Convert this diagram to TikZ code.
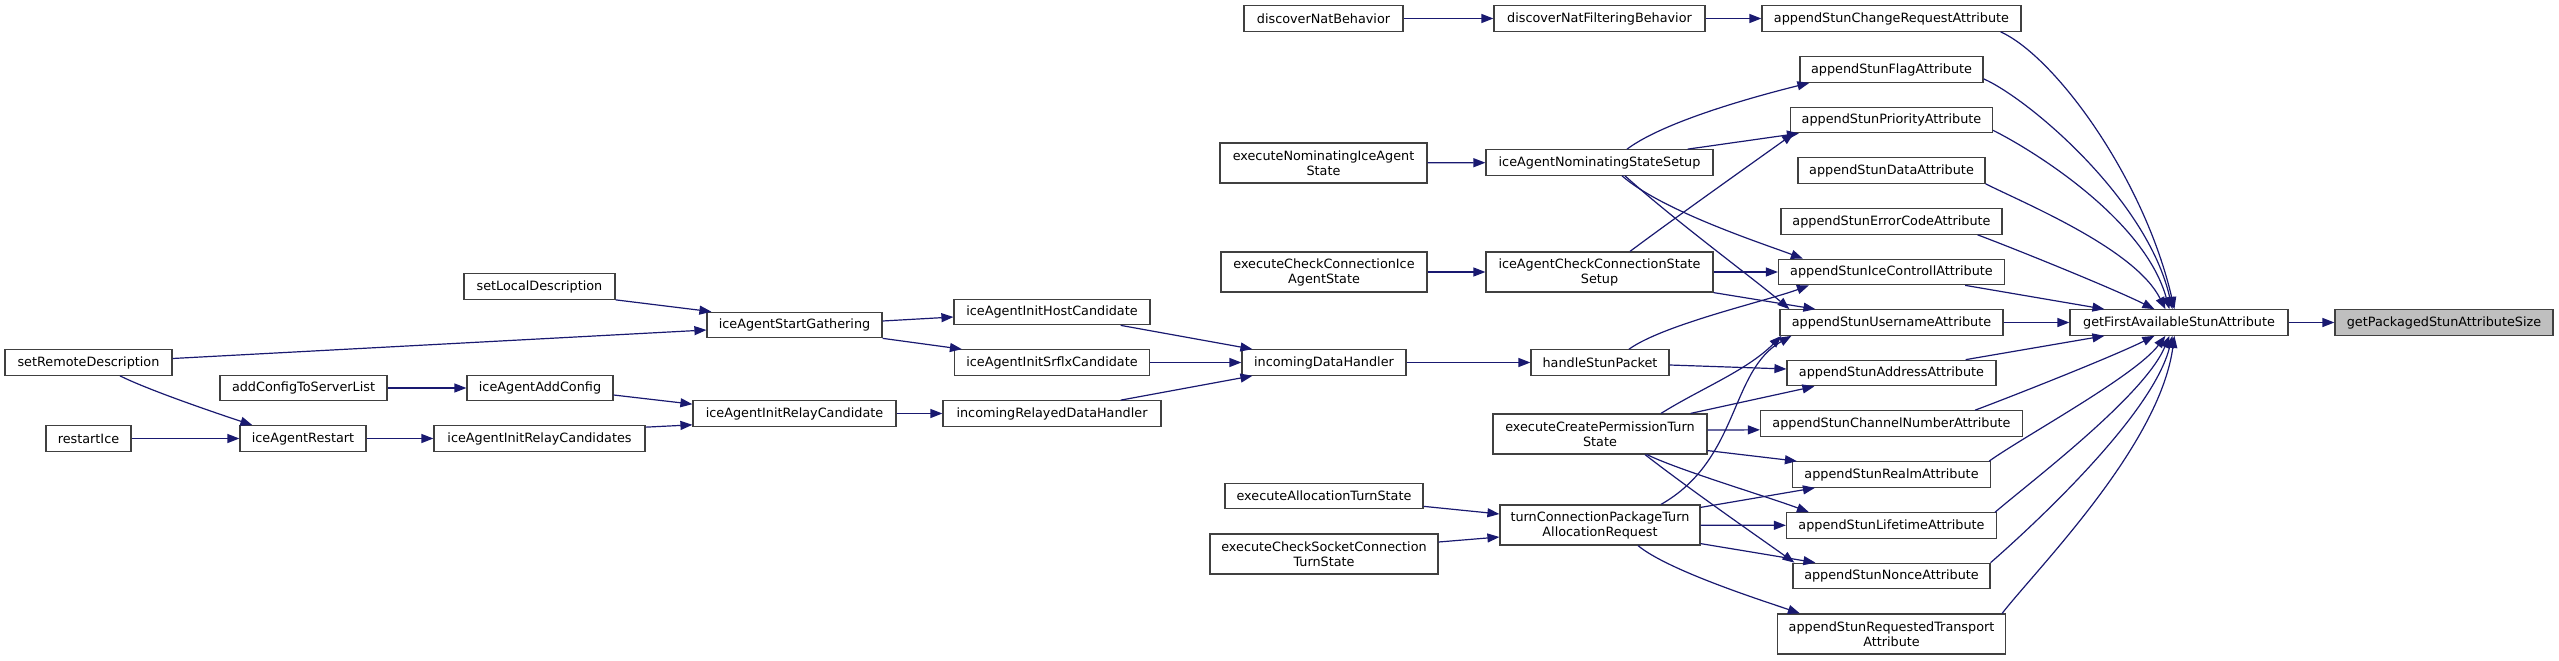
\documentclass[tikz,border=0pt]{standalone}
\usepackage{fontspec}
\setmainfont{DejaVu Sans}
\usetikzlibrary{arrows.meta,calc}
\definecolor{edgec}{HTML}{191970}
\definecolor{boxc}{HTML}{404040}
\definecolor{rootf}{HTML}{BFBFBF}
\begin{document}
\begin{tikzpicture}[x=1pt,y=-1pt,
  box/.style={draw=boxc, fill=white, line width=1.2pt, inner sep=0pt, minimum height=25.5pt, align=center, font=\fontsize{12.8pt}{15pt}\selectfont},
  tall/.style={minimum height=40pt},
  root/.style={fill=rootf},
  edge/.style={draw=edgec, line width=1.2pt, -{Triangle[length=12pt,width=9pt]}}]
\useasboundingbox (0,0) rectangle (2559,661);
% rank 9
\node[box,minimum width=167pt] (srd) at (88.5,362.5) {setRemoteDescription};
\node[box,minimum width=85pt] (rice) at (88.5,438.5) {restartIce};
% rank 8
\node[box,minimum width=167pt] (acsl) at (303.5,388) {addConfigToServerList};
\node[box,minimum width=126pt] (iar) at (303,438.5) {iceAgentRestart};
% rank 7
\node[box,minimum width=151pt] (sld) at (539.5,286.5) {setLocalDescription};
\node[box,minimum width=146pt] (iaac) at (540,388) {iceAgentAddConfig};
\node[box,minimum width=211pt] (iarcs) at (539.5,438.5) {iceAgentInitRelayCandidates};
% rank 6
\node[box,minimum width=175pt] (iasg) at (794.5,325) {iceAgentStartGathering};
\node[box,minimum width=203pt] (iairc) at (794.5,413.5) {iceAgentInitRelayCandidate};
% rank 5
\node[box,minimum width=196pt] (iahc) at (1052,312) {iceAgentInitHostCandidate};
\node[box,minimum width=195pt] (iasc) at (1052,362.5) {iceAgentInitSrflxCandidate};
\node[box,minimum width=218pt] (irdh) at (1052,413.5) {incomingRelayedDataHandler};
% rank 4
\node[box,minimum width=159pt] (dnb) at (1323.5,18.5) {discoverNatBehavior};
\node[box,tall,minimum width=207pt] (enias) at (1323.5,163) {executeNominatingIceAgent\\State};
\node[box,tall,minimum width=206pt] (ecci) at (1324,272) {executeCheckConnectionIce\\AgentState};
\node[box,minimum width=164pt] (idh) at (1324,362.5) {incomingDataHandler};
\node[box,minimum width=198pt] (eats) at (1324,496) {executeAllocationTurnState};
\node[box,tall,minimum width=228pt] (ecsc) at (1324,554) {executeCheckSocketConnection\\TurnState};
% rank 3
\node[box,minimum width=211pt] (dnfb) at (1599.5,18.5) {discoverNatFilteringBehavior};
\node[box,minimum width=227pt] (ianss) at (1599.5,162.5) {iceAgentNominatingStateSetup};
\node[box,tall,minimum width=227pt] (iaccs) at (1599.5,272) {iceAgentCheckConnectionState\\Setup};
\node[box,minimum width=138pt] (hsp) at (1600,362.5) {handleStunPacket};
\node[box,tall,minimum width=214pt] (ecpt) at (1600,434) {executeCreatePermissionTurn\\State};
\node[box,tall,minimum width=200pt] (tcp) at (1600,525) {turnConnectionPackageTurn\\AllocationRequest};
% rank 2
\node[box,minimum width=259pt] (cr) at (1891.5,18.5) {appendStunChangeRequestAttribute};
\node[box,minimum width=183pt] (fl) at (1891.5,69.5) {appendStunFlagAttribute};
\node[box,minimum width=202pt] (pr) at (1891.5,120) {appendStunPriorityAttribute};
\node[box,minimum width=187pt] (da) at (1891.5,170.5) {appendStunDataAttribute};
\node[box,minimum width=221pt] (ec) at (1891.5,221.5) {appendStunErrorCodeAttribute};
\node[box,minimum width=226pt] (ic) at (1891.5,272) {appendStunIceControllAttribute};
\node[box,minimum width=223pt] (un) at (1891.5,322.5) {appendStunUsernameAttribute};
\node[box,minimum width=209pt] (ad) at (1891.5,373) {appendStunAddressAttribute};
\node[box,minimum width=262pt] (cn) at (1891.5,423.5) {appendStunChannelNumberAttribute};
\node[box,minimum width=198pt] (re) at (1891.5,474.5) {appendStunRealmAttribute};
\node[box,minimum width=210pt] (lt) at (1891.5,525.5) {appendStunLifetimeAttribute};
\node[box,minimum width=197pt] (no) at (1891.5,576) {appendStunNonceAttribute};
\node[box,tall,minimum width=228pt] (rt) at (1891.5,634) {appendStunRequestedTransport\\Attribute};
% rank 1, 0
\node[box,minimum width=218pt] (gf) at (2179,322.5) {getFirstAvailableStunAttribute};
\node[box,root,minimum width=218pt] (gp) at (2444,322.5) {getPackagedStunAttributeSize};

% straight edges
\draw[edge] (dnb) -- (dnfb);
\draw[edge] (dnfb) -- (cr);
\draw[edge] (enias) -- (ianss);
\draw[edge] (ecci) -- (iaccs);
\draw[edge] (idh) -- (hsp);
\draw[edge] (iasc) -- (idh);
\draw[edge] (iairc) -- (irdh);
\draw[edge] (acsl) -- (iaac);
\draw[edge] (rice) -- (iar);
\draw[edge] (iar) -- (iarcs);
\draw[edge] (un) -- (gf);
\draw[edge] (gf) -- (gp);
\draw[edge] (iaccs) -- (ic);
\draw[edge] (tcp) -- (lt);

% left part
\draw[edge] (sld.south east) -- ($(iasg.north west)+(5,0)$);
\draw[edge] ($(srd.east)+(0,-4)$) -- ($(iasg.west)+(0,5)$);
\draw[edge] ($(srd.south)+(31.5,0)$) .. controls +(30,15) and +(-30,-10) .. ($(iar.north west)+(13,0)$);
\draw[edge] ($(iaac.east)+(0,7)$) -- ($(iairc.north west)+(0,4)$);
\draw[edge] ($(iarcs.north east)+(0,2)$) -- ($(iairc.south west)+(0,-2)$);
\draw[edge] ($(iasg.east)+(0,-4)$) -- ($(iahc.west)+(0,5)$);
\draw[edge] (iasg.south east) -- ($(iasc.north west)+(8,0)$);
\draw[edge] ($(iahc.south east)+(-30,0)$) -- ($(idh.north west)+(11,0)$);
\draw[edge] ($(irdh.north east)+(-41,0)$) -- ($(idh.south west)+(11,0)$);
\draw[edge] ($(eats.south east)+(0,-3)$) -- ($(tcp.west)+(0,-11)$);
\draw[edge] ($(ecsc.east)+(0,-12)$) -- ($(tcp.west)+(0,12)$);

% rank 3 -> rank 2
\draw[edge] ($(ianss.north)+(27.5,0)$) .. controls +(40,-30) and +(-40,10) .. ($(fl.south west)+(10,0)$);
\draw[edge] ($(ianss.north east)+(-26,0)$) -- ($(pr.south west)+(9,0)$);
\draw[edge] ($(ianss.south)+(22.5,0)$) .. controls +(40,35) and +(-40,-15) .. ($(ic.north west)+(25,0)$);
\draw[edge] ($(ianss.south)+(25.5,0)$) .. controls +(50,45) and +(-35,-30) .. ($(un.north west)+(10,0)$);
\draw[edge] ($(iaccs.north)+(30.5,0)$) .. controls +(40,-30) and +(-35,25) .. ($(pr.south west)+(4,0)$);
\draw[edge] (iaccs.south east) -- ($(un.north west)+(36,0)$);
\draw[edge] ($(hsp.north)+(29,0)$) .. controls +(35,-25) and +(-40,15) .. ($(ic.south west)+(31,0)$);
\draw[edge] ($(hsp.east)+(0,2.5)$) -- ($(ad.west)+(0,-4)$);
\draw[edge] ($(ecpt.north)+(61,0)$) .. controls +(40,-25) and +(-35,35) .. ($(un.south west)+(2,0)$);
\draw[edge] ($(ecpt.north east)+(-17,0)$) -- ($(ad.south west)+(28,0)$);
\draw[edge] ($(ecpt.east)+(0,-4)$) -- ($(cn.south west)+(0,-7)$);
\draw[edge] ($(ecpt.south east)+(0,-4)$) -- ($(re.north west)+(5,0)$);
\draw[edge] ($(ecpt.south)+(47,0)$) .. controls +(30,15) and +(-40,-15) .. ($(lt.north west)+(23,0)$);
\draw[edge] ($(ecpt.south)+(45,0)$) .. controls +(45,35) and +(-35,-25) .. ($(no.north west)+(2,0)$);
\draw[edge] ($(tcp.north)+(61,0)$) .. controls +(79,-45) and +(-62,35) .. ($(un.south west)+(12,0)$);
\draw[edge] ($(tcp.north east)+(0,3)$) -- ($(re.south west)+(23,0)$);
\draw[edge] ($(tcp.south east)+(0,-2)$) -- ($(no.north west)+(23,0)$);
\draw[edge] ($(tcp.south)+(38,0)$) .. controls +(30,25) and +(-35,-12) .. ($(rt.north west)+(23,0)$);

% rank 2 -> getFirstAvailableStunAttribute
\draw[edge] ($(cr.south east)+(-21,0)$) .. controls +(55,25) and +(-30,-130) .. ($(gf.north west)+(105,0)$);
\draw[edge] ($(fl.south east)+(0,-4)$) .. controls +(45,20) and +(-25,-110) .. ($(gf.north west)+(103,0)$);
\draw[edge] ($(pr.south east)+(0,-3)$) .. controls +(40,20) and +(-25,-90) .. ($(gf.north west)+(100,0)$);
\draw[edge] (da.south east) .. controls +(40,20) and +(-30,-60) .. ($(gf.north west)+(96,0)$);
\draw[edge] ($(ec.south east)+(-25,0)$) .. controls +(40,15) and +(-40,-20) .. ($(gf.north west)+(85,0)$);
\draw[edge] ($(ic.south east)+(-40,0)$) -- ($(gf.north west)+(35,0)$);
\draw[edge] ($(ad.north east)+(-31,0)$) -- ($(gf.south west)+(35,0)$);
\draw[edge] ($(cn.north east)+(-48,0)$) .. controls +(40,-15) and +(-40,20) .. ($(gf.south west)+(85,0)$);
\draw[edge] ($(re.north east)+(-2,0)$) .. controls +(35,-25) and +(-30,40) .. ($(gf.south west)+(96,0)$);
\draw[edge] ($(lt.north east)+(-2,0)$) .. controls +(35,-30) and +(-25,60) .. ($(gf.south west)+(100,0)$);
\draw[edge] (no.north east) .. controls +(40,-35) and +(-20,80) .. ($(gf.south west)+(103,0)$);
\draw[edge] ($(rt.north east)+(-4,0)$) .. controls +(35,-45) and +(-15,110) .. ($(gf.south west)+(105,0)$);
\end{tikzpicture}
\end{document}
